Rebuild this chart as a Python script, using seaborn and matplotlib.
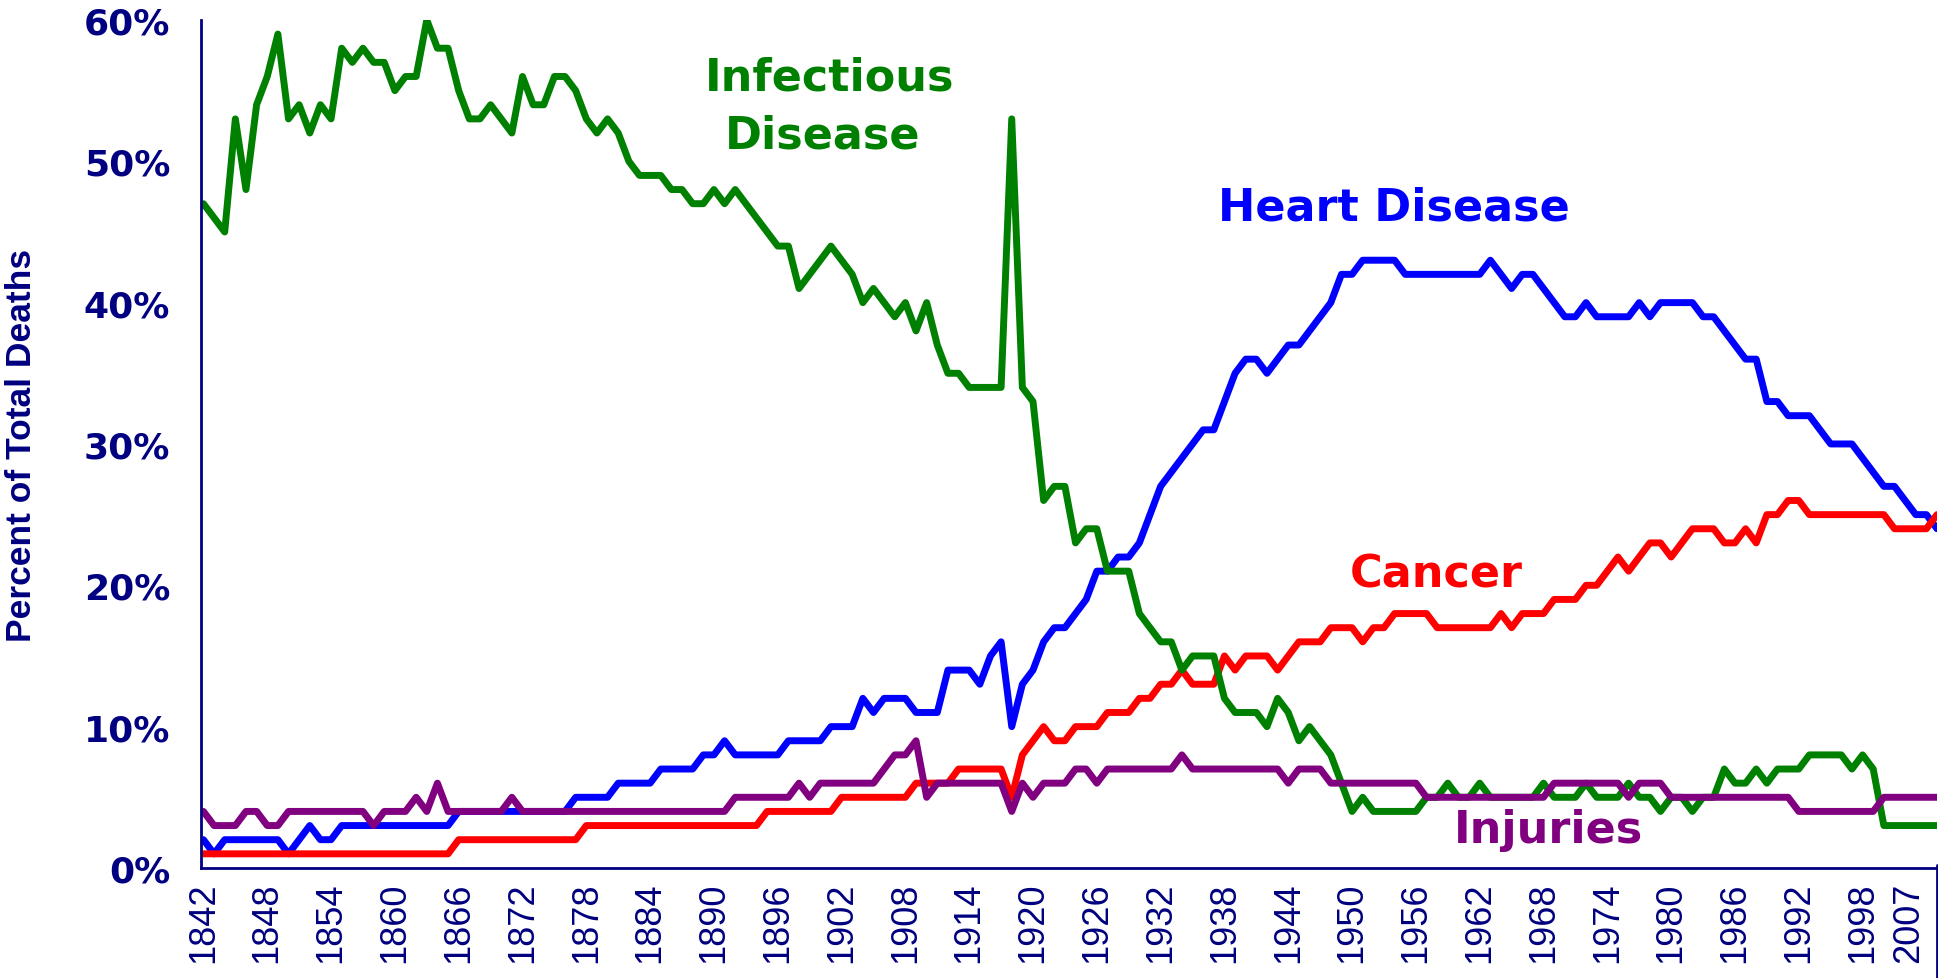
import matplotlib
matplotlib.use("Agg")
import matplotlib.pyplot as plt
import seaborn as sns
import pandas as pd
from matplotlib.lines import Line2D

# x categories (one per data point); every 6th one gets a tick label
years = list(range(1842, 2004)) + [2007, 2008]

infectious = [47, 46, 45, 53, 48, 54, 56, 59, 53, 54,
              52, 54, 53, 58, 57, 58, 57, 57, 55, 56,
              56, 60, 58, 58, 55, 53, 53, 54, 53, 52,
              56, 54, 54, 56, 56, 55, 53, 52, 53, 52,
              50, 49, 49, 49, 48, 48, 47, 47, 48, 47,
              48, 47, 46, 45, 44, 44, 41, 42, 43, 44,
              43, 42, 40, 41, 40, 39, 40, 38, 40, 37,
              35, 35, 34, 34, 34, 34, 53, 34, 33, 26,
              27, 27, 23, 24, 24, 21, 21, 21, 18, 17,
              16, 16, 14, 15, 15, 15, 12, 11, 11, 11,
              10, 12, 11, 9, 10, 9, 8, 6, 4, 5,
              4, 4, 4, 4, 4, 5, 5, 6, 5, 5,
              6, 5, 5, 5, 5, 5, 6, 5, 5, 5,
              6, 5, 5, 5, 6, 5, 5, 4, 5, 5,
              4, 5, 5, 7, 6, 6, 7, 6, 7, 7,
              7, 8, 8, 8, 8, 7, 8, 7, 3, 3,
              3, 3, 3, 3]

heart = [2, 1, 2, 2, 2, 2, 2, 2, 1, 2,
         3, 2, 2, 3, 3, 3, 3, 3, 3, 3,
         3, 3, 3, 3, 4, 4, 4, 4, 4, 4,
         4, 4, 4, 4, 4, 5, 5, 5, 5, 6,
         6, 6, 6, 7, 7, 7, 7, 8, 8, 9,
         8, 8, 8, 8, 8, 9, 9, 9, 9, 10,
         10, 10, 12, 11, 12, 12, 12, 11, 11, 11,
         14, 14, 14, 13, 15, 16, 10, 13, 14, 16,
         17, 17, 18, 19, 21, 21, 22, 22, 23, 25,
         27, 28, 29, 30, 31, 31, 33, 35, 36, 36,
         35, 36, 37, 37, 38, 39, 40, 42, 42, 43,
         43, 43, 43, 42, 42, 42, 42, 42, 42, 42,
         42, 43, 42, 41, 42, 42, 41, 40, 39, 39,
         40, 39, 39, 39, 39, 40, 39, 40, 40, 40,
         40, 39, 39, 38, 37, 36, 36, 33, 33, 32,
         32, 32, 31, 30, 30, 30, 29, 28, 27, 27,
         26, 25, 25, 24]

cancer = [1, 1, 1, 1, 1, 1, 1, 1, 1, 1,
          1, 1, 1, 1, 1, 1, 1, 1, 1, 1,
          1, 1, 1, 1, 2, 2, 2, 2, 2, 2,
          2, 2, 2, 2, 2, 2, 3, 3, 3, 3,
          3, 3, 3, 3, 3, 3, 3, 3, 3, 3,
          3, 3, 3, 4, 4, 4, 4, 4, 4, 4,
          5, 5, 5, 5, 5, 5, 5, 6, 6, 6,
          6, 7, 7, 7, 7, 7, 5, 8, 9, 10,
          9, 9, 10, 10, 10, 11, 11, 11, 12, 12,
          13, 13, 14, 13, 13, 13, 15, 14, 15, 15,
          15, 14, 15, 16, 16, 16, 17, 17, 17, 16,
          17, 17, 18, 18, 18, 18, 17, 17, 17, 17,
          17, 17, 18, 17, 18, 18, 18, 19, 19, 19,
          20, 20, 21, 22, 21, 22, 23, 23, 22, 23,
          24, 24, 24, 23, 23, 24, 23, 25, 25, 26,
          26, 25, 25, 25, 25, 25, 25, 25, 25, 24,
          24, 24, 24, 25]

injuries = [4, 3, 3, 3, 4, 4, 3, 3, 4, 4,
            4, 4, 4, 4, 4, 4, 3, 4, 4, 4,
            5, 4, 6, 4, 4, 4, 4, 4, 4, 5,
            4, 4, 4, 4, 4, 4, 4, 4, 4, 4,
            4, 4, 4, 4, 4, 4, 4, 4, 4, 4,
            5, 5, 5, 5, 5, 5, 6, 5, 6, 6,
            6, 6, 6, 6, 7, 8, 8, 9, 5, 6,
            6, 6, 6, 6, 6, 6, 4, 6, 5, 6,
            6, 6, 7, 7, 6, 7, 7, 7, 7, 7,
            7, 7, 8, 7, 7, 7, 7, 7, 7, 7,
            7, 7, 6, 7, 7, 7, 6, 6, 6, 6,
            6, 6, 6, 6, 6, 5, 5, 5, 5, 5,
            5, 5, 5, 5, 5, 5, 5, 6, 6, 6,
            6, 6, 6, 6, 5, 6, 6, 6, 5, 5,
            5, 5, 5, 5, 5, 5, 5, 5, 5, 5,
            4, 4, 4, 4, 4, 4, 4, 4, 5, 5,
            5, 5, 5, 5]

causes = ["Heart Disease", "Cancer", "Infectious Disease", "Injuries"]
colors = {"Heart Disease": "#0000FF", "Cancer": "#FF0000",
          "Infectious Disease": "#008000", "Injuries": "#800080"}
navy = "#000080"

series = {"Heart Disease": heart, "Cancer": cancer,
          "Infectious Disease": infectious, "Injuries": injuries}
rows = []
for cause in causes:
    for i, v in enumerate(series[cause]):
        rows.append({"idx": i, "value": v, "cause": cause})
df = pd.DataFrame(rows)

sns.set_style("white")
plt.rcParams["font.family"] = ["Liberation Sans", "DejaVu Sans"]

fig = plt.figure(figsize=(19.38, 9.79), dpi=100)
ax = fig.add_axes([0.1036, 0.1124, 0.8959, 0.8662])

sns.lineplot(data=df, x="idx", y="value", hue="cause", hue_order=causes,
             palette=colors, linewidth=5, legend=False, estimator=None, ax=ax)
for line in ax.lines:
    line.set_solid_joinstyle("round")
    line.set_solid_capstyle("round")

ax.set_xlim(-0.25, len(years) - 1)
ax.set_ylim(0, 60)

tick_idx = list(range(0, len(years), 6))
ax.set_xticks(tick_idx)
ax.set_xticklabels([str(years[i]) for i in tick_idx], rotation=90,
                   fontsize=26, color=navy, family=["Liberation Sans", "DejaVu Sans"])
# last label sits left of its tick so it stays inside the picture
ax.get_xticklabels()[-1].set_horizontalalignment("right")

ax.set_yticks(range(0, 61, 10))
ax.set_yticklabels([f"{v}%" for v in range(0, 61, 10)], fontsize=26,
                   fontweight="bold", color=navy, family=["DejaVu Sans"])
ax.tick_params(axis="x", length=0, pad=10)
ax.tick_params(axis="y", length=10, width=1.6, color=navy, direction="out", pad=12)

ax.set_xlabel("")
ax.set_ylabel("")
for side in ["top", "right"]:
    ax.spines[side].set_visible(False)
for side in ["left", "bottom"]:
    ax.spines[side].set_color(navy)
    ax.spines[side].set_linewidth(2)

fig.text(22 / 1938, 1 - 445 / 979, "Percent of Total Deaths", rotation=90,
         ha="center", va="center", color=navy, fontsize=25.5, fontweight="bold",
         family=["Liberation Sans"])

# frame line on the right of the tick label area
fig.add_artist(Line2D([1937 / 1938, 1937 / 1938], [0, 1 - 866 / 979],
                      color=navy, linewidth=2))

label_kw = dict(ha="center", va="baseline", fontsize=32, fontweight="bold",
                family=["DejaVu Sans"])
ax.text(58.9, 55.1, "Infectious", color=colors["Infectious Disease"], **label_kw)
ax.text(58.2, 51.0, "Disease", color=colors["Infectious Disease"], **label_kw)
ax.text(111.9, 45.9, "Heart Disease", color=colors["Heart Disease"], **label_kw)
ax.text(115.9, 19.9, "Cancer", color=colors["Cancer"], **label_kw)
ax.text(126.5, 1.84, "Injuries", color=colors["Injuries"], **label_kw)

fig.savefig("out.png", dpi=100)
